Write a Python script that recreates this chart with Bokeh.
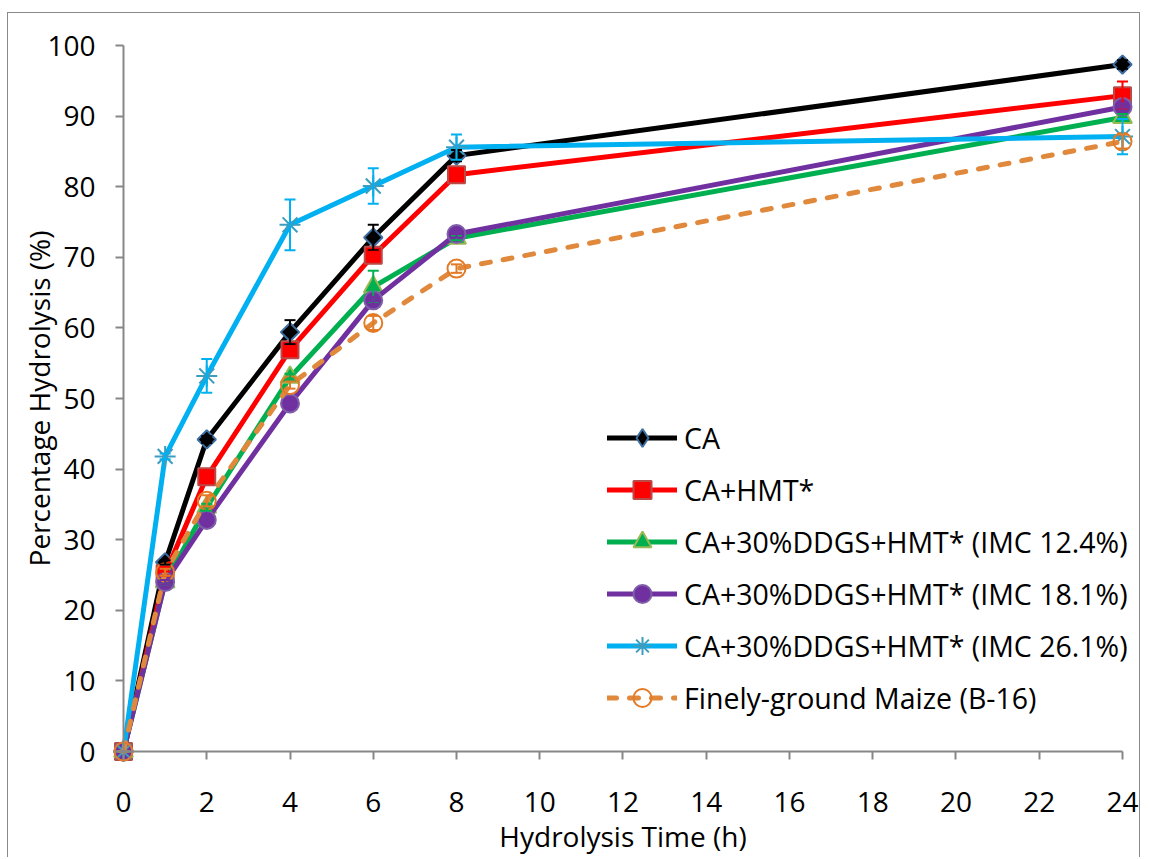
import math
from bokeh.plotting import figure
from bokeh.models import (ColumnDataSource, Whisker, TeeHead, Legend, LegendItem,
                          SingleIntervalTicker, Range1d)
from bokeh.embed import file_html
from bokeh.resources import INLINE

# ---------------- data ----------------
hours = [0, 1, 2, 4, 6, 8, 24]

names = ["CA", "CA+HMT*", "CA+30%DDGS+HMT* (IMC 12.4%)",
         "CA+30%DDGS+HMT* (IMC 18.1%)", "CA+30%DDGS+HMT* (IMC 26.1%)",
         "Finely-ground Maize (B-16)"]

ca = [0, 26.8, 44.2, 59.4, 72.8, 84.4, 97.3]
ca_hmt = [0, 25.2, 38.9, 56.9, 70.3, 81.7, 92.9]
imc124 = [0, 24.0, 34.6, 53.0, 65.8, 72.7, 89.8]
imc181 = [0, 24.0, 32.8, 49.3, 63.9, 73.3, 91.3]
imc261 = [0, 41.8, 53.2, 74.6, 80.1, 85.6, 87.1]
maize = [0, 25.4, 35.5, 51.9, 60.7, 68.4, 86.4]

ca_err = [0, 0.3, 0.5, 1.7, 1.8, 0.8, 0.6]
ca_hmt_err = [0, 0.3, 0.5, 0.5, 0.5, 0.5, 2.0]
imc124_err = [0, 0.3, 0.5, 0.5, 2.3, 0.3, 0.5]
imc181_err = [0, 0.3, 0.5, 0.5, 0.5, 0.5, 0.5]
imc261_err = [0, 0.4, 2.4, 3.6, 2.5, 1.8, 2.5]
maize_err = [0, 0.5, 0.8, 0.5, 1.0, 0.6, 1.0]

x_ticks_step = 2
y_ticks_step = 10

# ---------------- styles ----------------
FONT = "Open Sans"
FS = "28px"
styles = [
    dict(line="#000000", marker="square", angle=math.pi / 4, size=13, fill="#000000",
         mline="#3E6FA3", dash="solid", err="#000000"),
    dict(line="#FF0000", marker="square", angle=0, size=17, fill="#FF0000",
         mline="#B94A48", dash="solid", err="#FF0000"),
    dict(line="#00B050", marker="triangle", angle=0, size=19, fill="#00B050",
         mline="#98B954", dash="solid", err="#00B050"),
    dict(line="#7030A0", marker="circle", angle=0, size=18, fill="#7030A0",
         mline="#7F5FA8", dash="solid", err="#7030A0"),
    dict(line="#00B0F0", marker="asterisk", angle=0, size=21, fill=None,
         mline="#3C9DC0", dash="solid", err="#00B0F0"),
    dict(line="#E0893C", marker="circle", angle=0, size=18, fill=None,
         mline="#E47A25", dash="9 13", err="#E47A25"),
]
values = [ca, ca_hmt, imc124, imc181, imc261, maize]
errors = [ca_err, ca_hmt_err, imc124_err, imc181_err, imc261_err, maize_err]

# frame covers the whole canvas; axes are placed at x=0 / y=0 inside it
p = figure(width=1133, height=845, output_backend="svg", toolbar_location=None,
           x_range=Range1d(-2.7628, 24.4565), y_range=Range1d(-15.1558, 104.5326),
           min_border_left=0, min_border_right=0, min_border_top=0, min_border_bottom=0)
p.margin = (12, 0, 0, 7)
p.styles = {"border-top": "1px solid #898989", "border-left": "1px solid #898989",
            "border-right": "1px solid #898989"}
p.outline_line_color = None
p.background_fill_color = "white"
p.border_fill_color = "white"
p.xgrid.visible = False
p.ygrid.visible = False

axis_color = "#878787"
xa = p.xaxis[0]
ya = p.yaxis[0]
xa.ticker = SingleIntervalTicker(interval=x_ticks_step, num_minor_ticks=0)
ya.ticker = SingleIntervalTicker(interval=y_ticks_step, num_minor_ticks=0)
xa.bounds = (0, 24)
ya.bounds = (0, 100)
xa.fixed_location = 0
ya.fixed_location = 0
for ax in (xa, ya):
    ax.axis_line_color = axis_color
    ax.axis_line_width = 2
    ax.major_tick_line_color = axis_color
    ax.major_tick_line_width = 2
    ax.major_tick_in = 0
    ax.major_tick_out = 8
    ax.minor_tick_line_color = None
    ax.major_label_text_font = FONT
    ax.major_label_text_font_size = FS
    ax.major_label_text_color = "#000000"
    ax.axis_label_text_font = FONT
    ax.axis_label_text_font_size = FS
    ax.axis_label_text_font_style = "normal"
    ax.axis_label_text_color = "#000000"
xa.axis_label = "Hydrolysis Time (h)"
ya.axis_label = "Percentage Hydrolysis (%)"
xa.major_label_standoff = 32
ya.major_label_standoff = 20
xa.axis_label_standoff = 2
ya.axis_label_standoff = -14

items = []
for i, (name, vals, errs, st) in enumerate(zip(names, values, errors, styles)):
    src = ColumnDataSource(dict(x=hours, y=vals,
                                lo=[v - e for v, e in zip(vals, errs)],
                                hi=[v + e for v, e in zip(vals, errs)]))
    ln = p.line("x", "y", source=src, line_color=st["line"], line_width=5,
                line_join="round", line_cap="round", line_dash=st["dash"])
    w = Whisker(source=src, base="x", lower="lo", upper="hi", level="glyph",
                line_color=st["err"], line_width=2,
                upper_head=TeeHead(size=11, line_color=st["err"], line_width=2),
                lower_head=TeeHead(size=11, line_color=st["err"], line_width=2))
    p.add_layout(w)
    legend_mk = None
    if st["angle"] != 0:
        # legends ignore marker angle: a diamond drawn underneath (hidden by the
        # rotated square) provides the legend swatch
        legend_mk = p.scatter("x", "y", source=src, marker="diamond", size=15,
                              fill_color=st["fill"], line_color=st["mline"],
                              line_width=2)
    mk = p.scatter("x", "y", source=src, marker=st["marker"], size=st["size"],
                   angle=st["angle"], fill_color=st["fill"], line_color=st["mline"],
                   line_width=2)
    items.append(LegendItem(label=name, renderers=[ln, legend_mk or mk]))

legend = Legend(items=items, location=(599, 138), glyph_width=70, glyph_height=45,
                label_height=45, spacing=7, padding=0, margin=0, label_standoff=7,
                border_line_color=None, background_fill_alpha=0,
                label_text_font=FONT, label_text_font_size="28.5px",
                label_text_color="#000000")
p.add_layout(legend)

open("out.html", "w").write(file_html(p, INLINE))
